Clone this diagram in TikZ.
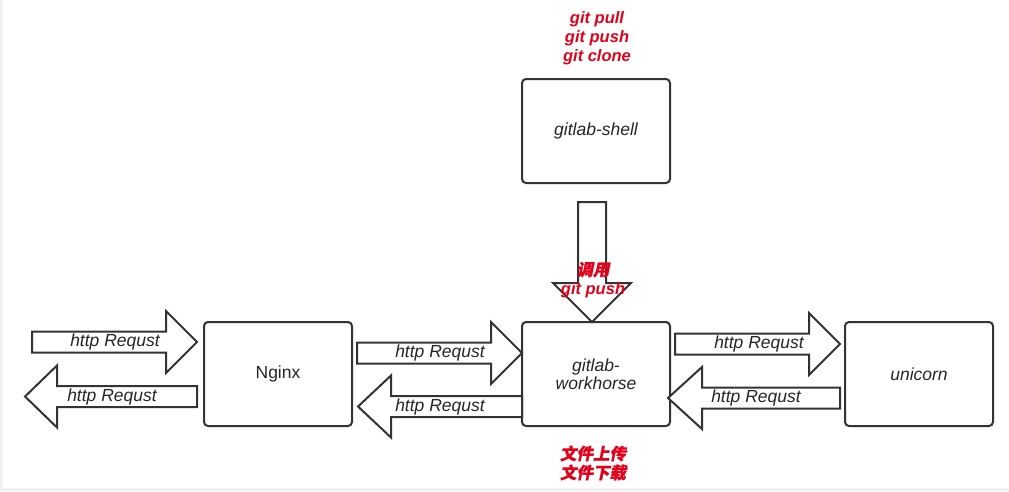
\documentclass[tikz,border=0pt]{standalone}
\usepackage{fontspec}
\setmainfont{Liberation Sans}
\newfontfamily\cjk[FakeSlant=0.2,FakeBold=0.8]{Noto Sans CJK SC}
\usetikzlibrary{positioning}

\definecolor{linegray}{HTML}{333333}
\definecolor{textgray}{HTML}{262626}
\definecolor{notered}{HTML}{E3001B}

\tikzset{
    box/.style={draw=linegray, line width=2pt, rounded corners=4pt, fill=white,
        minimum width=148pt, minimum height=104pt, text=textgray,
        font=\fontsize{17.5}{18}\selectfont\itshape, align=center},
    blockarrow/.style={draw=linegray, line width=2pt, fill=white, line join=miter},
    arrowtext/.style={text=textgray, font=\fontsize{17.5}{18}\selectfont\itshape},
    notetext/.style={text=notered, font=\fontsize{16.5}{19}\selectfont\bfseries\itshape, align=center}
}

% horizontal block arrow: tail x, head base x, tip x, y
\newcommand{\harrow}[4]{%
    \draw[blockarrow] (#1,#4-10.5) -- (#2,#4-10.5) -- (#2,#4-31) -- (#3,#4)
        -- (#2,#4+31) -- (#2,#4+10.5) -- (#1,#4+10.5) -- cycle;}

\begin{document}
\begin{tikzpicture}[x=1pt, y=-1pt]
    \useasboundingbox (0,0) rectangle (1009,491);
    \fill[white] (0,0) rectangle (1009,491);
    \fill[gray!12] (0,0) rectangle (3,491);
    \fill[gray!12] (0,488) rectangle (1009,491);

    % boxes
    \node[box] (shell) at (596,131) {gitlab-shell};
    \node[box, font=\fontsize{17.5}{18}\selectfont] (nginx) at (278,374) {Nginx};
    \node[box] (workhorse) at (596,374) {gitlab-\\workhorse};
    \node[box] (unicorn) at (919,374) {unicorn};

    % notes
    \node[notetext] (gitcmds) at (597,38) {git pull\\git push\\git clone};
    \node[notetext] (files) at (593,463) {\cjk 文件上传\\\cjk 文件下载};

    % shell -> workhorse
    \draw[blockarrow] (578,202) -- (606,202) -- (606,283) -- (631,283)
        -- (592,322) -- (553,283) -- (578,283) -- cycle;
    \node[notetext] (call) at (593,280) {{\cjk 调用}\\git push};

    % left pair
    \harrow{32}{166}{197}{342}
    \node[arrowtext] (req1) at (115,342) {http Requst};
    \harrow{197}{57}{25}{396.5}
    \node[arrowtext] (req2) at (112,396.5) {http Requst};

    % middle pair
    \harrow{357}{491}{522}{353}
    \node[arrowtext] (req3) at (440,353) {http Requst};
    \harrow{522}{391}{358}{406.5}
    \node[arrowtext] (req4) at (440,406.5) {http Requst};

    % right pair
    \harrow{675}{809}{840}{344}
    \node[arrowtext] (req5) at (759,344) {http Requst};
    \harrow{840}{702}{668}{398}
    \node[arrowtext] (req6) at (756,398) {http Requst};
\end{tikzpicture}
\end{document}
